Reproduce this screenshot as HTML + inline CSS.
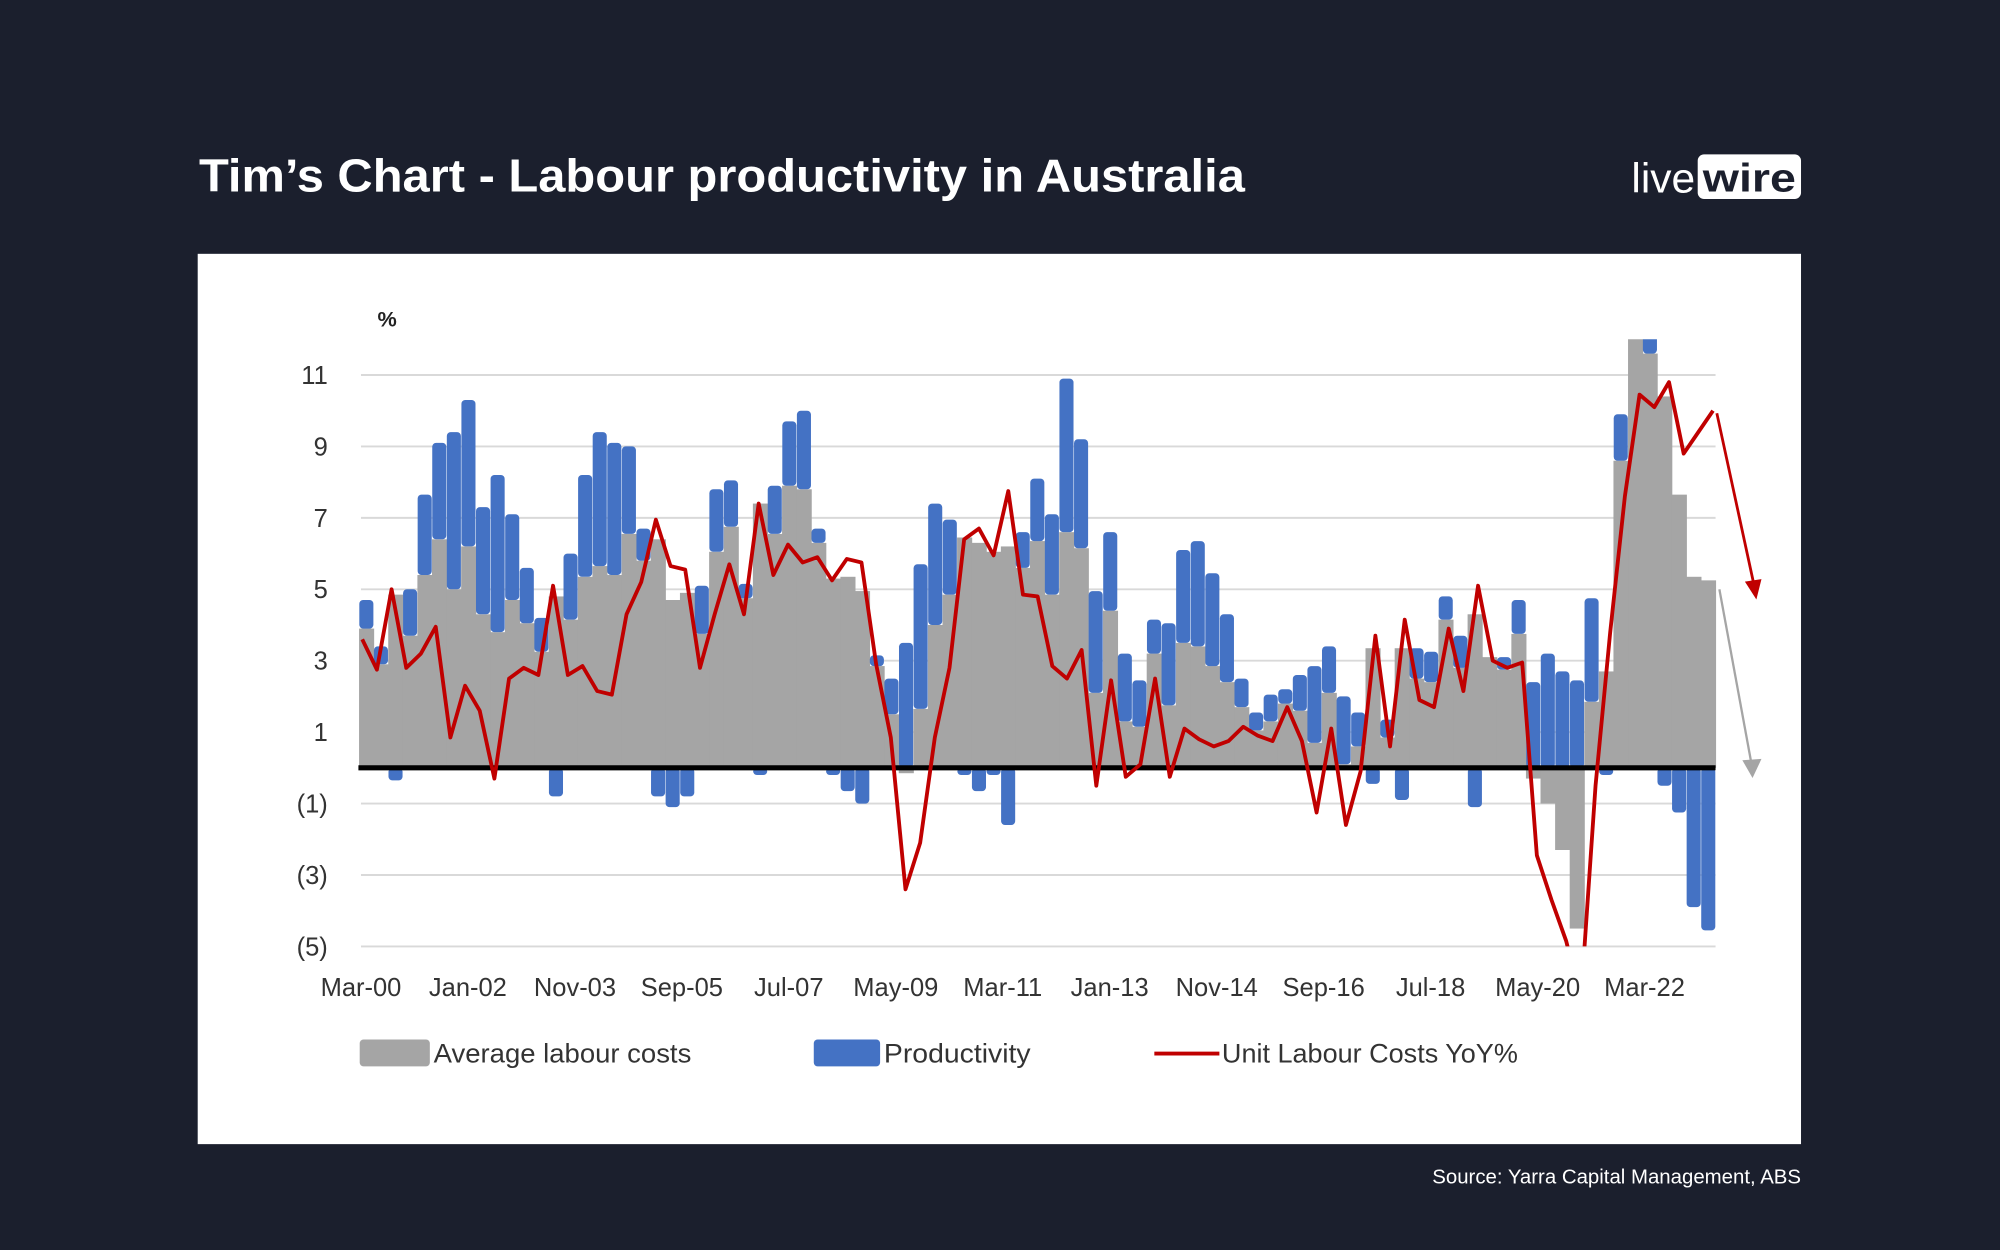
<!DOCTYPE html>
<html><head><meta charset="utf-8"><style>
html,body{margin:0;padding:0;background:#1b1f2d;}
svg{display:block;}
text{font-family:"Liberation Sans",sans-serif;}
</style></head><body>
<svg id="root" width="2000" height="1250" viewBox="0 0 1568 980" xmlns="http://www.w3.org/2000/svg">
<rect x="0" y="0" width="1568" height="980" fill="#1b1f2d"/>
<text x="156" y="150" fill="#ffffff" font-size="36" font-weight="bold" textLength="820" lengthAdjust="spacingAndGlyphs">Tim’s Chart - Labour productivity in Australia</text>
<g>
<text x="1279" y="151" fill="#ffffff" font-size="33" textLength="50" lengthAdjust="spacingAndGlyphs">live</text>
<rect x="1331" y="121" width="81" height="35" rx="5" fill="#ffffff"/>
<text x="1335" y="150" fill="#1b1f2d" font-size="31" font-weight="bold" textLength="73" lengthAdjust="spacingAndGlyphs">wire</text>
</g>
<rect x="155" y="199" width="1257" height="698" fill="#ffffff"/>
<text x="296" y="256" font-size="17" font-weight="bold" fill="#222">%</text>
<defs><clipPath id="plotclip"><rect x="270" y="266" width="1090" height="476"/></clipPath></defs>
<g id="grid"></g>
<g id="bars" clip-path="url(#plotclip)"></g>
<g id="zero"></g>
<g id="line" clip-path="url(#plotclip)"></g>
<g id="labels"></g>
<g>
<line x1="1346" y1="324" x2="1375" y2="458" stroke="#c00000" stroke-width="2.2"/>
<polygon points="1368,456 1381,454 1377,470" fill="#c00000"/>
<line x1="1348" y1="462" x2="1373" y2="598" stroke="#a5a5a5" stroke-width="1.8"/>
<polygon points="1366,596 1381,595 1374,610" fill="#a5a5a5"/>
</g>
<g>
<rect x="282" y="815" width="55" height="21" rx="3" fill="#a5a5a5"/>
<text x="340" y="833" font-size="21" fill="#333" textLength="202" lengthAdjust="spacingAndGlyphs">Average labour costs</text>
<rect x="638" y="815" width="52" height="21" rx="3" fill="#4472c4"/>
<text x="693" y="833" font-size="21" fill="#333" textLength="115" lengthAdjust="spacingAndGlyphs">Productivity</text>
<line x1="905" y1="826" x2="956" y2="826" stroke="#c00000" stroke-width="3"/>
<text x="958" y="833" font-size="21" fill="#333" textLength="232" lengthAdjust="spacingAndGlyphs">Unit Labour Costs YoY%</text>
</g>
<text x="1412" y="928" text-anchor="end" font-size="16" fill="#ffffff">Source: Yarra Capital Management, ABS</text>
</svg>
<script>
const alc = [3.9,2.9,4.85,3.7,5.4,6.4,5.0,6.2,4.3,3.8,4.7,4.05,3.25,4.8,4.15,5.35,5.65,5.4,6.55,5.8,6.4,4.7,4.9,3.75,6.05,6.75,4.75,7.4,6.55,7.9,7.8,6.3,5.3,5.35,4.95,2.85,1.5,-0.15,1.65,4.0,4.85,6.45,6.3,6.05,6.2,5.6,6.35,4.85,6.6,6.15,2.1,4.4,1.3,1.15,3.2,1.75,3.5,3.4,2.85,2.4,1.7,1.05,1.3,1.8,1.6,0.7,2.1,0.1,0.6,3.35,0.85,3.35,2.5,2.4,4.15,2.8,4.3,3.1,2.75,3.75,-0.3,-1.0,-2.3,-4.5,1.85,2.7,8.6,12.5,11.6,10.4,7.65,5.35,5.25];
const productivity = [0.8,0.5,-0.35,1.3,2.25,2.7,4.4,4.1,3.0,4.4,2.4,1.55,0.95,-0.8,1.85,2.85,3.75,3.7,2.45,0.9,-0.8,-1.1,-0.8,1.35,1.75,1.3,0.4,-0.2,1.35,1.8,2.2,0.4,-0.2,-0.65,-1.0,0.3,1.0,3.5,4.05,3.4,2.1,-0.2,-0.65,-0.2,-1.6,1.0,1.75,2.25,4.3,3.05,2.85,2.2,1.9,1.3,0.95,2.3,2.6,2.95,2.6,1.9,0.8,0.5,0.75,0.4,1.0,2.15,1.3,1.9,0.95,-0.45,0.5,-0.9,0.85,0.85,0.65,0.9,-1.1,0,0.35,0.95,2.4,3.2,2.7,2.45,2.9,-0.2,1.3,0,0.5,-0.5,-1.25,-3.9,-4.55];
const ulc = [3.6,2.75,5.0,2.8,3.2,3.95,0.85,2.3,1.6,-0.3,2.5,2.8,2.6,5.1,2.6,2.85,2.15,2.05,4.3,5.2,6.95,5.65,5.55,2.8,4.3,5.7,4.3,7.4,5.4,6.25,5.75,5.9,5.25,5.85,5.75,2.9,0.85,-3.4,-2.1,0.85,2.8,6.4,6.7,5.95,7.75,4.85,4.8,2.85,2.5,3.3,-0.5,2.45,-0.25,0.1,2.5,-0.25,1.1,0.8,0.6,0.75,1.15,0.9,0.75,1.7,0.75,-1.25,1.1,-1.6,-0.1,3.7,0.6,4.15,1.9,1.7,3.9,2.15,5.1,3.0,2.8,2.95,-2.45,-3.7,-4.85,-6.5,-0.5,3.8,7.6,10.45,10.1,10.8,8.8,9.4,10.0];
const yTicks = [11,9,7,5,3,1,-1,-3,-5];
const yTickLabels = ["11","9","7","5","3","1","(1)","(3)","(5)"];
const xLabels = ["Mar-00","Jan-02","Nov-03","Sep-05","Jul-07","May-09","Mar-11","Jan-13","Nov-14","Sep-16","Jul-18","May-20","Mar-22"];
const xLabelPos = [0,7.33,14.67,22,29.33,36.67,44,51.33,58.67,66,73.33,80.67,88];

const NS = "http://www.w3.org/2000/svg";
const X0 = 281.5, PITCH = 1063.5 / alc.length;
function xL(i){ return X0 + i * PITCH; }
function xLine(i){ return 284 + i * (1059 / (ulc.length - 1)); }
function y(v){ return 602 - 28 * v; }
function mk(tag, attrs, parent){
  const e = document.createElementNS(NS, tag);
  for (const k in attrs) e.setAttribute(k, attrs[k]);
  parent.appendChild(e); return e;
}
const grid = document.getElementById('grid');
const labels = document.getElementById('labels');
yTicks.forEach((t, k) => {
  const g = mk('line', {x1:283, x2:1345, y1:y(t), y2:y(t), stroke:'#d9d9d9', 'stroke-width':1.5}, grid);
  
  
  const tx = mk('text', {x:257, y:y(t)+7, 'text-anchor':'end', 'font-size':20, fill:'#333'}, labels);
  tx.textContent = yTickLabels[k];
  
  
});
xLabels.forEach((l, k) => {
  const tx = mk('text', {x:xL(xLabelPos[k]) + 1.5, y:781, 'text-anchor':'middle', 'font-size':20, fill:'#333'}, labels);
  tx.textContent = l;
  
  
});
const bars = document.getElementById('bars');
alc.forEach((g, i) => {
  const top = Math.max(0, g), bot = Math.min(0, g);
  const r = mk('rect', {x:xL(i), y:y(top), width:PITCH + 0.4, height:y(bot) - y(top), fill:'#a5a5a5'}, bars);
  
  
});
productivity.forEach((p, i) => {
  if (p === 0) return;
  const g = alc[i];
  let a, b;
  if (p > 0) { a = g > 0 ? g : 0; b = a + p; }
  else { a = g < 0 ? g : 0; b = a + p; }
  const hi = Math.max(a, b), lo = Math.min(a, b);
  const r = mk('rect', {x:xL(i) + 0.2, y:y(hi), width:PITCH - 0.4, height:Math.max(2, y(lo) - y(hi)), rx:3, fill:'#4472c4'}, bars);
  
  
});
const zg = document.getElementById('zero');
const z = mk('line', {x1:281, x2:1345, y1:y(0), y2:y(0), stroke:'#000', 'stroke-width':4}, zg);


const pts = ulc.map((v, i) => xLine(i).toFixed(1) + ',' + y(v).toFixed(1)).join(' ');
const pl = mk('polyline', {points:pts, fill:'none', stroke:'#c00000', 'stroke-width':3, 'stroke-linejoin':'round'}, document.getElementById('line'));


</script>
</body></html>
